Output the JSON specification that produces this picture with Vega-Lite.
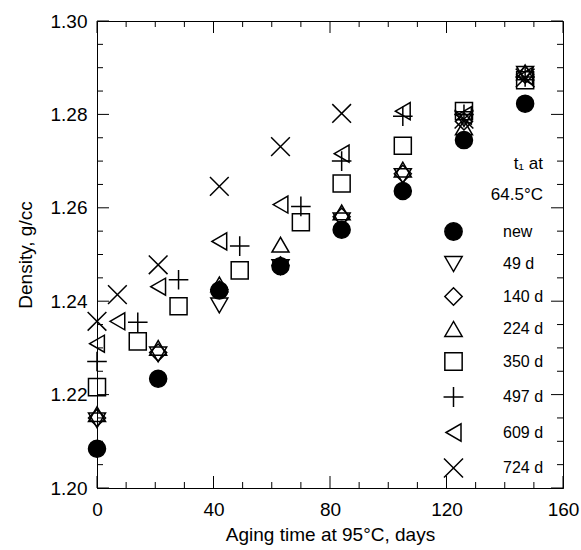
{
  "$schema": "https://vega.github.io/schema/vega-lite/v6.json",
  "width": 466,
  "height": 467,
  "autosize": "none",
  "padding": {"left": 97, "top": 21, "right": 18, "bottom": 62},
  "background": "white",
  "config": {
    "view": {"stroke": "black", "strokeWidth": 1},
    "font": "Liberation Sans"
  },
  "datasets": {
    "xt": [
      {"v": 0, "kind": "major"}, {"v": 10, "kind": "minor"}, {"v": 20, "kind": "minor"}, {"v": 30, "kind": "minor"},
      {"v": 40, "kind": "major"}, {"v": 50, "kind": "minor"}, {"v": 60, "kind": "minor"}, {"v": 70, "kind": "minor"},
      {"v": 80, "kind": "major"}, {"v": 90, "kind": "minor"}, {"v": 100, "kind": "minor"}, {"v": 110, "kind": "minor"},
      {"v": 120, "kind": "major"}, {"v": 130, "kind": "minor"}, {"v": 140, "kind": "minor"}, {"v": 150, "kind": "minor"},
      {"v": 160, "kind": "major"}
    ],
    "yt": [
      {"v": 1.2, "kind": "major"}, {"v": 1.205, "kind": "minor"}, {"v": 1.21, "kind": "minor"}, {"v": 1.215, "kind": "minor"},
      {"v": 1.22, "kind": "major"}, {"v": 1.225, "kind": "minor"}, {"v": 1.23, "kind": "minor"}, {"v": 1.235, "kind": "minor"},
      {"v": 1.24, "kind": "major"}, {"v": 1.245, "kind": "minor"}, {"v": 1.25, "kind": "minor"}, {"v": 1.255, "kind": "minor"},
      {"v": 1.26, "kind": "major"}, {"v": 1.265, "kind": "minor"}, {"v": 1.27, "kind": "minor"}, {"v": 1.275, "kind": "minor"},
      {"v": 1.28, "kind": "major"}, {"v": 1.285, "kind": "minor"}, {"v": 1.29, "kind": "minor"}, {"v": 1.295, "kind": "minor"},
      {"v": 1.3, "kind": "major"}
    ]
  },
  "data": {
    "values": [
      {"series": "new", "day": 0, "density": 1.2084},
      {"series": "new", "day": 21, "density": 1.2234},
      {"series": "new", "day": 42, "density": 1.2423},
      {"series": "new", "day": 63, "density": 1.2475},
      {"series": "new", "day": 84, "density": 1.2553},
      {"series": "new", "day": 105, "density": 1.2636},
      {"series": "new", "day": 126, "density": 1.2745},
      {"series": "new", "day": 147, "density": 1.2823},
      {"series": "49 d", "day": 0, "density": 1.2145},
      {"series": "49 d", "day": 21, "density": 1.2286},
      {"series": "49 d", "day": 42, "density": 1.2391},
      {"series": "49 d", "day": 63, "density": 1.2473},
      {"series": "49 d", "day": 84, "density": 1.2573},
      {"series": "49 d", "day": 105, "density": 1.2668},
      {"series": "49 d", "day": 126, "density": 1.2790},
      {"series": "49 d", "day": 147, "density": 1.2887},
      {"series": "140 d", "day": 0, "density": 1.2150},
      {"series": "140 d", "day": 21, "density": 1.2290},
      {"series": "140 d", "day": 42, "density": 1.2425},
      {"series": "140 d", "day": 63, "density": 1.2477},
      {"series": "140 d", "day": 84, "density": 1.2581},
      {"series": "140 d", "day": 105, "density": 1.2673},
      {"series": "140 d", "day": 126, "density": 1.2785},
      {"series": "140 d", "day": 147, "density": 1.2885},
      {"series": "224 d", "day": 0, "density": 1.2158},
      {"series": "224 d", "day": 21, "density": 1.2300},
      {"series": "224 d", "day": 42, "density": 1.2436},
      {"series": "224 d", "day": 63, "density": 1.2521},
      {"series": "224 d", "day": 84, "density": 1.2590},
      {"series": "224 d", "day": 105, "density": 1.2682},
      {"series": "224 d", "day": 126, "density": 1.2772},
      {"series": "224 d", "day": 147, "density": 1.2890},
      {"series": "350 d", "day": 0, "density": 1.2216},
      {"series": "350 d", "day": 14, "density": 1.2314},
      {"series": "350 d", "day": 28, "density": 1.2389},
      {"series": "350 d", "day": 49, "density": 1.2466},
      {"series": "350 d", "day": 70, "density": 1.2569},
      {"series": "350 d", "day": 84, "density": 1.2652},
      {"series": "350 d", "day": 105, "density": 1.2733},
      {"series": "350 d", "day": 126, "density": 1.2807},
      {"series": "350 d", "day": 147, "density": 1.2873},
      {"series": "497 d", "day": 0, "density": 1.2271},
      {"series": "497 d", "day": 14, "density": 1.2355},
      {"series": "497 d", "day": 28, "density": 1.2446},
      {"series": "497 d", "day": 49, "density": 1.2518},
      {"series": "497 d", "day": 70, "density": 1.2603},
      {"series": "497 d", "day": 84, "density": 1.2700},
      {"series": "497 d", "day": 105, "density": 1.2796},
      {"series": "497 d", "day": 126, "density": 1.2800},
      {"series": "497 d", "day": 147, "density": 1.2880},
      {"series": "609 d", "day": 0, "density": 1.2309},
      {"series": "609 d", "day": 7, "density": 1.2357},
      {"series": "609 d", "day": 21, "density": 1.2431},
      {"series": "609 d", "day": 42, "density": 1.2528},
      {"series": "609 d", "day": 63, "density": 1.2607},
      {"series": "609 d", "day": 84, "density": 1.2716},
      {"series": "609 d", "day": 105, "density": 1.2807},
      {"series": "609 d", "day": 126, "density": 1.2798},
      {"series": "609 d", "day": 147, "density": 1.2882},
      {"series": "724 d", "day": 0, "density": 1.2357},
      {"series": "724 d", "day": 7, "density": 1.2414},
      {"series": "724 d", "day": 21, "density": 1.2478},
      {"series": "724 d", "day": 42, "density": 1.2646},
      {"series": "724 d", "day": 63, "density": 1.2731},
      {"series": "724 d", "day": 84, "density": 1.2802},
      {"series": "724 d", "day": 126, "density": 1.2790},
      {"series": "724 d", "day": 147, "density": 1.2878}
    ]
  },
  "layer": [
    {
      "mark": {"type": "point", "filled": true, "strokeWidth": 1.5, "opacity": 1, "size": 290},
      "encoding": {
        "x": {
          "field": "day", "type": "quantitative",
          "scale": {"domain": [0, 160], "nice": false, "zero": false},
          "axis": {
            "orient": "bottom",
            "values": [0, 40, 80, 120, 160],
            "labelOverlap": false, "labelFlush": false, "labelBound": false,
            "labelColor": "black", "titleColor": "black", "domainColor": "black",
            "labelFont": "Liberation Sans", "titleFont": "Liberation Sans",
            "ticks": false, "tickSize": 0, "grid": false,
            "labelPadding": 12,
            "labelFontSize": 19,
            "title": "Aging time at 95°C, days",
            "titleFontSize": 19,
            "titleFontWeight": "normal",
            "titlePadding": 6
          }
        },
        "y": {
          "field": "density", "type": "quantitative",
          "scale": {"domain": [1.2, 1.3], "nice": false, "zero": false},
          "axis": {
            "orient": "left",
            "values": [1.2, 1.22, 1.24, 1.26, 1.28, 1.3],
            "format": ".2f",
            "labelOverlap": false, "labelFlush": false, "labelBound": false,
            "labelColor": "black", "titleColor": "black", "domainColor": "black",
            "labelFont": "Liberation Sans", "titleFont": "Liberation Sans",
            "ticks": false, "tickSize": 0, "grid": false,
            "labelPadding": 10,
            "labelFontSize": 19,
            "title": "Density, g/cc",
            "titleFontSize": 19,
            "titleFontWeight": "normal",
            "titlePadding": 15
          }
        },
        "shape": {
          "field": "series", "type": "nominal",
          "scale": {
            "domain": ["new", "49 d", "140 d", "224 d", "350 d", "497 d", "609 d", "724 d"],
            "range": ["circle", "triangle-down", "diamond", "triangle-up", "square", "M-1.15,0L1.15,0M0,-1.15L0,1.15", "triangle-left", "M-1.1,-1.1L1.1,1.1M-1.1,1.1L1.1,-1.1"]
          },
          "legend": {
            "orient": "none", "legendX": 347, "legendY": 135,
            "title": ["t₁ at\u00a0\u00a0\u00a0", "64.5°C"],
            "titleFont": "Liberation Sans", "labelFont": "Liberation Sans",
            "titleFontSize": 17, "titleFontWeight": "normal", "titleColor": "black",
            "titleAlign": "right", "titleAnchor": "end", "titleLineHeight": 31, "titlePadding": 18,
            "labelFontSize": 16, "labelColor": "black", "labelOffset": 40,
            "symbolSize": 300, "symbolStrokeWidth": 1.5, "rowPadding": 9.5
          }
        },
        "fill": {
          "field": "series", "type": "nominal",
          "scale": {
            "domain": ["new", "49 d", "140 d", "224 d", "350 d", "497 d", "609 d", "724 d"],
            "range": ["black", "transparent", "transparent", "transparent", "transparent", "transparent", "transparent", "transparent"]
          },
          "legend": {
            "orient": "none", "legendX": 347, "legendY": 135,
            "title": ["t₁ at\u00a0\u00a0\u00a0", "64.5°C"],
            "titleFont": "Liberation Sans", "labelFont": "Liberation Sans",
            "titleFontSize": 17, "titleFontWeight": "normal", "titleColor": "black",
            "titleAlign": "right", "titleAnchor": "end", "titleLineHeight": 31, "titlePadding": 18,
            "labelFontSize": 16, "labelColor": "black", "labelOffset": 40,
            "symbolSize": 300, "symbolStrokeWidth": 1.5, "rowPadding": 9.5
          }
        },
        "stroke": {
          "field": "series", "type": "nominal",
          "scale": {
            "domain": ["new", "49 d", "140 d", "224 d", "350 d", "497 d", "609 d", "724 d"],
            "range": ["black", "black", "black", "black", "black", "black", "black", "black"]
          },
          "legend": {
            "orient": "none", "legendX": 347, "legendY": 135,
            "title": ["t₁ at\u00a0\u00a0\u00a0", "64.5°C"],
            "titleFont": "Liberation Sans", "labelFont": "Liberation Sans",
            "titleFontSize": 17, "titleFontWeight": "normal", "titleColor": "black",
            "titleAlign": "right", "titleAnchor": "end", "titleLineHeight": 31, "titlePadding": 18,
            "labelFontSize": 16, "labelColor": "black", "labelOffset": 40,
            "symbolSize": 300, "symbolStrokeWidth": 1.5, "rowPadding": 9.5
          }
        }
      }
    },
    {
      "data": {"name": "xt"},
      "transform": [{"filter": "datum.kind === 'major'"}],
      "mark": {"type": "point", "shape": "M0,0L0,-1", "size": 576, "filled": false, "color": "black", "strokeWidth": 1, "opacity": 1},
      "encoding": {
        "x": {"field": "v", "type": "quantitative"},
        "y": {"datum": 1.2, "type": "quantitative"}
      }
    },
    {
      "data": {"name": "xt"},
      "transform": [{"filter": "datum.kind === 'minor'"}],
      "mark": {"type": "point", "shape": "M0,0L0,-1", "size": 144, "filled": false, "color": "black", "strokeWidth": 1, "opacity": 1},
      "encoding": {
        "x": {"field": "v", "type": "quantitative"},
        "y": {"datum": 1.2, "type": "quantitative"}
      }
    },
    {
      "data": {"name": "xt"},
      "transform": [{"filter": "datum.kind === 'major'"}],
      "mark": {"type": "point", "shape": "M0,0L0,1", "size": 576, "filled": false, "color": "black", "strokeWidth": 1, "opacity": 1},
      "encoding": {
        "x": {"field": "v", "type": "quantitative"},
        "y": {"datum": 1.3, "type": "quantitative"}
      }
    },
    {
      "data": {"name": "xt"},
      "transform": [{"filter": "datum.kind === 'minor'"}],
      "mark": {"type": "point", "shape": "M0,0L0,1", "size": 144, "filled": false, "color": "black", "strokeWidth": 1, "opacity": 1},
      "encoding": {
        "x": {"field": "v", "type": "quantitative"},
        "y": {"datum": 1.3, "type": "quantitative"}
      }
    },
    {
      "data": {"name": "yt"},
      "transform": [{"filter": "datum.kind === 'major'"}],
      "mark": {"type": "point", "shape": "M0,0L1,0", "size": 576, "filled": false, "color": "black", "strokeWidth": 1, "opacity": 1},
      "encoding": {
        "y": {"field": "v", "type": "quantitative"},
        "x": {"datum": 0, "type": "quantitative"}
      }
    },
    {
      "data": {"name": "yt"},
      "transform": [{"filter": "datum.kind === 'minor'"}],
      "mark": {"type": "point", "shape": "M0,0L1,0", "size": 144, "filled": false, "color": "black", "strokeWidth": 1, "opacity": 1},
      "encoding": {
        "y": {"field": "v", "type": "quantitative"},
        "x": {"datum": 0, "type": "quantitative"}
      }
    },
    {
      "data": {"name": "yt"},
      "transform": [{"filter": "datum.kind === 'major'"}],
      "mark": {"type": "point", "shape": "M0,0L-1,0", "size": 576, "filled": false, "color": "black", "strokeWidth": 1, "opacity": 1},
      "encoding": {
        "y": {"field": "v", "type": "quantitative"},
        "x": {"datum": 160, "type": "quantitative"}
      }
    },
    {
      "data": {"name": "yt"},
      "transform": [{"filter": "datum.kind === 'minor'"}],
      "mark": {"type": "point", "shape": "M0,0L-1,0", "size": 144, "filled": false, "color": "black", "strokeWidth": 1, "opacity": 1},
      "encoding": {
        "y": {"field": "v", "type": "quantitative"},
        "x": {"datum": 160, "type": "quantitative"}
      }
    }
  ]
}
